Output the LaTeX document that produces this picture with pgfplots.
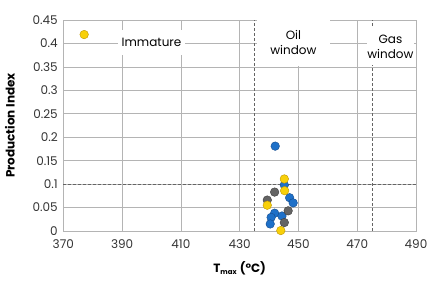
\documentclass[border=0pt]{standalone}
\usepackage{fontspec}
\setmainfont{Poppins}
\usepackage{pgfplots}
\pgfplotsset{compat=1.18}
\definecolor{gridc}{RGB}{180,180,180}
\definecolor{dashc}{RGB}{100,100,100}
\definecolor{blueP}{RGB}{30,112,200}
\definecolor{blueD}{RGB}{20,75,140}
\definecolor{yelP}{RGB}{248,208,10}
\definecolor{yelD}{RGB}{190,150,0}
\definecolor{greyP}{RGB}{100,100,100}
\definecolor{greyD}{RGB}{60,60,60}
\begin{document}
\begin{tikzpicture}
\begin{axis}[
  scale only axis, width=352.7pt, height=211pt,
  xmin=370, xmax=490, ymin=0, ymax=0.45,
  xtick={370,390,410,430,450,470,490},
  ytick={0,0.05,0.1,0.15,0.2,0.25,0.3,0.35,0.4,0.45},
  yticklabels={0,0.05,0.1,0.15,0.2,0.25,0.3,0.35,0.4,0.45},
  grid=major, major grid style={gridc, line width=0.7pt},
  axis line style={gridc, line width=0.7pt},
  tick style={draw=none},
  tick label style={font=\fontsize{12}{12}\selectfont, text=black!80},
  /pgf/number format/assume math mode=true,
  xticklabel style={yshift=-5pt},
  yticklabel style={xshift=-2pt},
  xlabel={\bfseries T\textsubscript{\fontsize{7}{7}\selectfont max} (°C)},
  ylabel={\bfseries Production Index},
  xlabel style={font=\fontsize{12}{12}\selectfont, yshift=-6pt},
  ylabel style={font=\fontsize{12}{12}\selectfont, yshift=11pt},
  clip=false,
]
\addplot[dashc, densely dashed, line width=0.6pt, forget plot] coordinates {(435,0) (435,0.45)};
\addplot[dashc, densely dashed, line width=0.6pt, forget plot] coordinates {(475,0) (475,0.45)};
\addplot[dashc, densely dashed, line width=0.6pt, forget plot] coordinates {(370,0.1) (490,0.1)};
% blue
\addplot[only marks, mark=*, mark size=4.3pt, mark options={fill=blueP, draw=blueD, line width=0.4pt}] coordinates {
(442.1,0.181) (445.2,0.098) (447.0,0.071) (448.2,0.060) (441.9,0.038) (440.7,0.029) (444.4,0.032) (440.4,0.015)
};
% grey
\addplot[only marks, mark=*, mark size=4.3pt, mark options={fill=greyP, draw=greyD, line width=0.4pt}] coordinates {
(441.9,0.083) (439.4,0.066) (446.5,0.043) (445.2,0.018)
};
% yellow
\addplot[only marks, mark=*, mark size=4.3pt, mark options={fill=yelP, draw=yelD, line width=0.4pt}] coordinates {
(377.1,0.419) (445.2,0.111) (445.3,0.086) (439.4,0.055) (444.0,0.001)
};
\node[fill=white, inner sep=0pt, minimum width=67pt, minimum height=25pt, font=\fontsize{12}{12}\selectfont] at (axis cs:400,0.402) {Immature};
\node[fill=white, inner sep=0pt, minimum width=73pt, minimum height=46pt, align=center, font=\fontsize{12}{15}\selectfont] at (axis cs:448.3,0.401) {Oil\\window};
\node[fill=white, inner sep=0pt, minimum width=47pt, minimum height=37pt, align=center, font=\fontsize{12}{15}\selectfont] at (axis cs:481.3,0.393) {Gas\\window};
\draw[gridc, line width=0.7pt] (rel axis cs:1,0) -- (rel axis cs:1,1);
\end{axis}
\path[use as bounding box] (current axis.south west) ++(-63.3pt,-51pt) rectangle ++(441pt,282pt);
\end{tikzpicture}
\end{document}
